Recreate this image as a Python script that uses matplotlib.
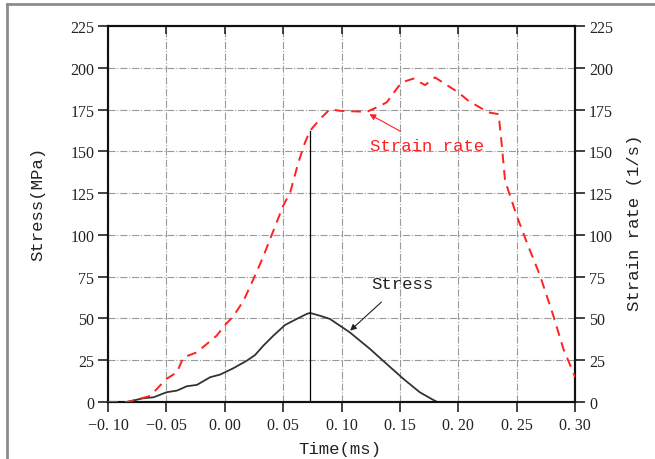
import numpy as np
import matplotlib
matplotlib.use("Agg")
import matplotlib.pyplot as plt
from matplotlib.lines import Line2D

# strain rate curve (1/s)
rate_t = [-0.100, -0.083, -0.064, -0.050, -0.041, -0.0355, -0.024, -0.0155, -0.007,
          0.001, 0.0073, 0.016, 0.0245, 0.032, 0.0416, 0.050, 0.056, 0.063, 0.0687,
          0.073, 0.0816, 0.090, 0.0987, 0.1216, 0.133, 0.1387, 0.147, 0.1515, 0.1615,
          0.1715, 0.180, 0.200, 0.2086, 0.2257, 0.2345, 0.237, 0.240, 0.2443, 0.250,
          0.2586, 0.270, 0.2814, 0.290, 0.300]
rate_v = [0, 0, 3.6, 13.8, 17.8, 26.7, 29.7, 34.7, 39.7,
          46.7, 51.3, 60.6, 73.6, 85.5, 102.5, 117.5, 125.5, 143.4, 155.4,
          162.4, 169.4, 175.3, 174.3, 173.7, 177.3, 179.4, 187.3, 191.3, 193.6,
          189.7, 194.3, 185.3, 180.3, 173.4, 172.3, 155.4, 132.5, 123.5, 111.5,
          95.6, 75.6, 51.6, 31.7, 15.0]

# stress curve (MPa)
stress_t = [-0.100, -0.084, -0.070, -0.061, -0.050, -0.041, -0.0326, -0.024, -0.0126,
            -0.004, 0.0073, 0.0188, 0.0259, 0.033, 0.0416, 0.0516, 0.0616, 0.0702,
            0.073, 0.0816, 0.090, 0.107, 0.1244, 0.1387, 0.153, 0.167, 0.1786, 0.182,
            0.300]
stress_v = [0, 0, 2.2, 2.8, 5.8, 6.8, 9.4, 10.2, 14.8,
            16.4, 20.2, 24.7, 28.1, 33.7, 39.7, 46.1, 49.7, 52.7,
            53.3, 51.6, 49.7, 41.7, 31.7, 22.7, 13.8, 5.8, 1.2, 0,
            0]

# marker line at the stress peak
peak_t = 0.073
peak_top = 162.4

xticks = [-0.10, -0.05, 0.00, 0.05, 0.10, 0.15, 0.20, 0.25, 0.30]
yticks = [0, 25, 50, 75, 100, 125, 150, 175, 200, 225]


def fmt_x(v):
    s = f"{abs(v):.2f}".replace(".", ". ")
    return ("\u2212" + s) if v < -1e-9 else s


num_font = "Liberation Serif"
txt_font = "Liberation Mono"

fig = plt.figure(figsize=(6.55, 4.6), dpi=100)
ax = fig.add_axes([0.165, 0.124, 0.713, 0.817])
ax2 = ax.twinx()

# outer frame (left and top only, like a cropped box)
fig.add_artist(Line2D([0.011, 0.011], [0.0, 0.989], transform=fig.transFigure,
                      color="#8c8c8c", lw=2))
fig.add_artist(Line2D([0.011, 1.0], [0.989, 0.989], transform=fig.transFigure,
                      color="#8c8c8c", lw=2))

ax.plot(stress_t, stress_v, color="#333333", lw=1.3, zorder=3)
ax.plot([peak_t, peak_t], [0, peak_top], color="black", lw=0.9, zorder=3)
ax2.plot(rate_t, rate_v, color="#ff2020", lw=1.4, linestyle=(0, (5, 3.5)), zorder=3)

for a in (ax, ax2):
    a.set_xlim(-0.10, 0.30)
    a.set_ylim(0, 225)
    a.set_yticks(yticks)

ax.set_xticks(xticks)
ax.set_xticklabels([fmt_x(v) for v in xticks], fontfamily=num_font, fontsize=11.5)
ax.set_yticklabels([str(v) for v in yticks], fontfamily=num_font, fontsize=11.5)
ax2.set_yticklabels([str(v) for v in yticks], fontfamily=num_font, fontsize=11.5)

ax.grid(True, color="#9a9a9a", linestyle="-.", lw=0.8)
ax.set_axisbelow(True)

ax.tick_params(axis="x", direction="out", length=7, width=1.2, pad=4, colors="#222222")
ax.tick_params(axis="y", direction="out", length=7, width=1.2, pad=3, colors="#222222")
ax.tick_params(top=True, which="major")
ax2.tick_params(axis="y", direction="out", length=7, width=1.2, pad=3, colors="#222222")
# top ticks point inward
for t in ax.xaxis.get_major_ticks():
    t.tick2line.set_marker(3)
    t.tick2line.set_markersize(6)

for a in (ax, ax2):
    for s in a.spines.values():
        s.set_linewidth(1.5)
        s.set_color("#111111")

ax.set_xlabel("Time(ms)", fontfamily=txt_font, fontsize=12.5, color="#222222")
ax.xaxis.set_label_coords(0.497, -0.105)
ax.set_ylabel("Stress(MPa)", fontfamily=txt_font, fontsize=12.5, color="#222222")
ax.yaxis.set_label_coords(-0.135, 0.53)
ax2.set_ylabel("Strain rate (1/s)", fontfamily=txt_font, fontsize=12.5, color="#222222")
ax2.yaxis.set_label_coords(1.111, 0.48)

ax2.annotate("Strain rate", xy=(0.1238, 172.3), xytext=(0.1728, 153.4),
             ha="center", va="center", fontfamily=txt_font, fontsize=12.5, color="#ff2020",
             arrowprops=dict(arrowstyle="-|>", color="#ff2020", lw=0.8,
                             mutation_scale=9, shrinkA=6, shrinkB=0))
ax.annotate("Stress", xy=(0.1073, 42.7), xytext=(0.1517, 71.0),
            ha="center", va="center", fontfamily=txt_font, fontsize=12.5, color="#222222",
            arrowprops=dict(arrowstyle="-|>", color="#222222", lw=0.8,
                            mutation_scale=9, shrinkA=9, shrinkB=0))

fig.savefig("out.png", dpi=100)
